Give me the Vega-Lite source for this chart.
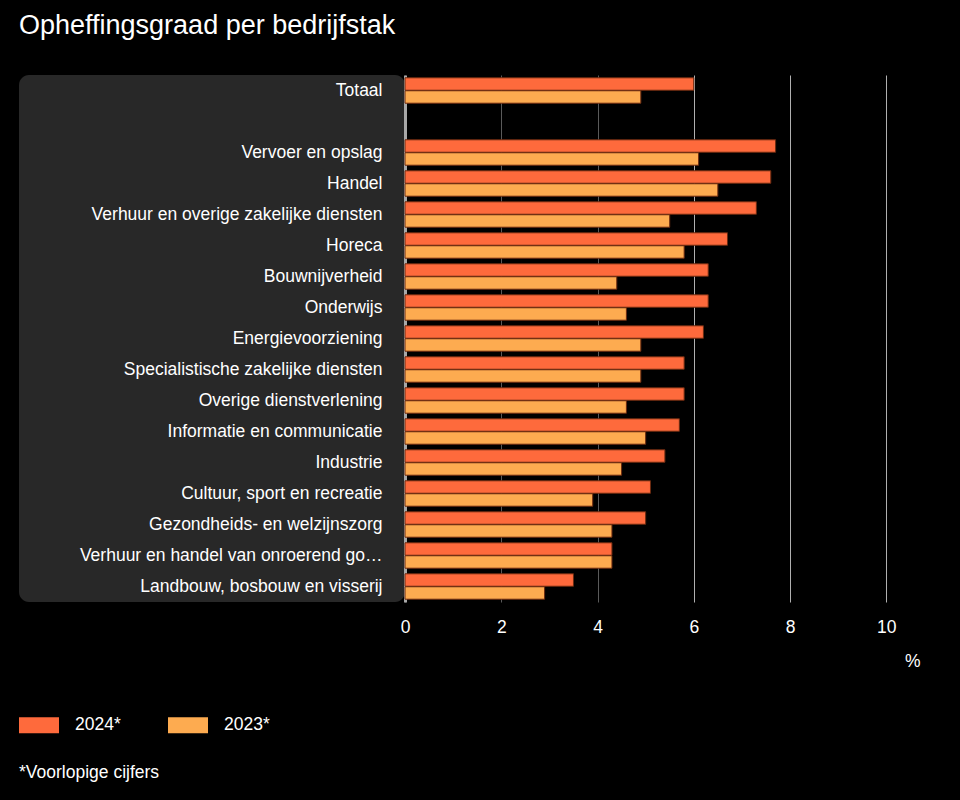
{
  "$schema": "https://vega.github.io/schema/vega-lite/v6.json",
  "background": "#000000",
  "padding": {"left": 19, "top": 12, "right": 40, "bottom": 18},
  "bounds": "flush",
  "title": {
    "text": "Opheffingsgraad per bedrijfstak",
    "anchor": "start",
    "fontSize": 27,
    "fontWeight": "normal",
    "color": "#ffffff",
    "font": "Liberation Sans",
    "offset": 35
  },
  "config": {
    "font": "Liberation Sans",
    "concat": {"spacing": 0}
  },
  "datasets": {
    "rows": [
      {"sector": "Totaal", "jaar": "2024*", "waarde": 6.0},
      {"sector": "Totaal", "jaar": "2023*", "waarde": 4.9},
      {"sector": "Vervoer en opslag", "jaar": "2024*", "waarde": 7.7},
      {"sector": "Vervoer en opslag", "jaar": "2023*", "waarde": 6.1},
      {"sector": "Handel", "jaar": "2024*", "waarde": 7.6},
      {"sector": "Handel", "jaar": "2023*", "waarde": 6.5},
      {"sector": "Verhuur en overige zakelijke diensten", "jaar": "2024*", "waarde": 7.3},
      {"sector": "Verhuur en overige zakelijke diensten", "jaar": "2023*", "waarde": 5.5},
      {"sector": "Horeca", "jaar": "2024*", "waarde": 6.7},
      {"sector": "Horeca", "jaar": "2023*", "waarde": 5.8},
      {"sector": "Bouwnijverheid", "jaar": "2024*", "waarde": 6.3},
      {"sector": "Bouwnijverheid", "jaar": "2023*", "waarde": 4.4},
      {"sector": "Onderwijs", "jaar": "2024*", "waarde": 6.3},
      {"sector": "Onderwijs", "jaar": "2023*", "waarde": 4.6},
      {"sector": "Energievoorziening", "jaar": "2024*", "waarde": 6.2},
      {"sector": "Energievoorziening", "jaar": "2023*", "waarde": 4.9},
      {"sector": "Specialistische zakelijke diensten", "jaar": "2024*", "waarde": 5.8},
      {"sector": "Specialistische zakelijke diensten", "jaar": "2023*", "waarde": 4.9},
      {"sector": "Overige dienstverlening", "jaar": "2024*", "waarde": 5.8},
      {"sector": "Overige dienstverlening", "jaar": "2023*", "waarde": 4.6},
      {"sector": "Informatie en communicatie", "jaar": "2024*", "waarde": 5.7},
      {"sector": "Informatie en communicatie", "jaar": "2023*", "waarde": 5.0},
      {"sector": "Industrie", "jaar": "2024*", "waarde": 5.4},
      {"sector": "Industrie", "jaar": "2023*", "waarde": 4.5},
      {"sector": "Cultuur, sport en recreatie", "jaar": "2024*", "waarde": 5.1},
      {"sector": "Cultuur, sport en recreatie", "jaar": "2023*", "waarde": 3.9},
      {"sector": "Gezondheids- en welzijnszorg", "jaar": "2024*", "waarde": 5.0},
      {"sector": "Gezondheids- en welzijnszorg", "jaar": "2023*", "waarde": 4.3},
      {"sector": "Verhuur en handel van onroerend goed", "jaar": "2024*", "waarde": 4.3},
      {"sector": "Verhuur en handel van onroerend goed", "jaar": "2023*", "waarde": 4.3},
      {"sector": "Landbouw, bosbouw en visserij", "jaar": "2024*", "waarde": 3.5},
      {"sector": "Landbouw, bosbouw en visserij", "jaar": "2023*", "waarde": 2.9}
    ]
  },
  "resolve": {"scale": {"y": "independent", "color": "shared"}},
  "hconcat": [
    {
      "width": 386,
      "height": 527,
      "view": {"fill": "#282828", "stroke": null, "cornerRadius": 10},
      "data": {"name": "rows"},
      "mark": {"type": "point", "opacity": 0},
      "encoding": {
        "y": {
          "field": "sector",
          "type": "nominal",
          "scale": {
            "domain": ["Totaal", " ", "Vervoer en opslag", "Handel", "Verhuur en overige zakelijke diensten", "Horeca", "Bouwnijverheid", "Onderwijs", "Energievoorziening", "Specialistische zakelijke diensten", "Overige dienstverlening", "Informatie en communicatie", "Industrie", "Cultuur, sport en recreatie", "Gezondheids- en welzijnszorg", "Verhuur en handel van onroerend goed", "Landbouw, bosbouw en visserij"],
            "paddingInner": 0.18,
            "paddingOuter": 0.09
          },
          "axis": {
            "orient": "right",
            "title": null,
            "ticks": false,
            "domain": false,
            "grid": false,
            "labelAlign": "right",
            "labelPadding": -23,
            "labelFontSize": 17.5,
            "labelColor": "#ffffff",
            "labelLimit": 303,
            "labelFont": "Liberation Sans"
          }
        }
      }
    },
    {
      "width": 515,
      "height": 527,
      "view": {"stroke": null},
      "data": {"name": "rows"},
      "mark": {"type": "bar", "stroke": "#6b2a10", "strokeWidth": 1},
      "encoding": {
        "y": {
          "field": "sector",
          "type": "nominal",
          "scale": {
            "domain": ["Totaal", " ", "Vervoer en opslag", "Handel", "Verhuur en overige zakelijke diensten", "Horeca", "Bouwnijverheid", "Onderwijs", "Energievoorziening", "Specialistische zakelijke diensten", "Overige dienstverlening", "Informatie en communicatie", "Industrie", "Cultuur, sport en recreatie", "Gezondheids- en welzijnszorg", "Verhuur en handel van onroerend goed", "Landbouw, bosbouw en visserij"],
            "paddingInner": 0.18,
            "paddingOuter": 0.09
          },
          "axis": {
            "title": null,
            "labels": false,
            "ticks": false,
            "grid": false,
            "domain": true,
            "domainColor": "#a8a8a8",
            "domainWidth": 3
          }
        },
        "yOffset": {
          "field": "jaar",
          "type": "nominal",
          "sort": ["2024*", "2023*"],
          "scale": {"paddingInner": 0.04}
        },
        "x": {
          "field": "waarde",
          "type": "quantitative",
          "scale": {"domain": [0, 10.7], "nice": false},
          "axis": {
            "title": "%",
            "titleAnchor": "end",
            "titleFontSize": 17.5,
            "titleFontWeight": "normal",
            "titleColor": "#ffffff",
            "titlePadding": 17,
            "values": [0, 2, 4, 6, 8, 10],
            "ticks": false,
            "domain": false,
            "labelFlush": false,
            "labelFontSize": 17.5,
            "labelColor": "#ffffff",
            "labelPadding": 16,
            "grid": true,
            "gridColor": {"condition": {"test": "datum.value < 5", "value": "#5a5a5a"}, "value": "#b0b0b0"},
            "gridWidth": 1
          }
        },
        "color": {
          "field": "jaar",
          "type": "nominal",
          "sort": ["2024*", "2023*"],
          "scale": {"domain": ["2024*", "2023*"], "range": ["#fe6a3c", "#fdab50"]},
          "legend": {
            "orient": "none",
            "legendX": 0,
            "legendY": 630,
            "direction": "horizontal",
            "title": "*Voorlopige cijfers",
            "titleOrient": "bottom",
            "titleFontSize": 17.5,
            "titleFontWeight": "normal",
            "titleColor": "#ffffff",
            "titlePadding": 30,
            "labelFontSize": 17.5,
            "labelColor": "#ffffff",
            "labelOffset": 16,
            "columnPadding": 47,
            "symbolType": "M-1,-0.4H1V0.4H-1Z",
            "symbolSize": 1600,
            "symbolStrokeWidth": 0,
            "symbolOpacity": 1
          }
        }
      }
    }
  ]
}
